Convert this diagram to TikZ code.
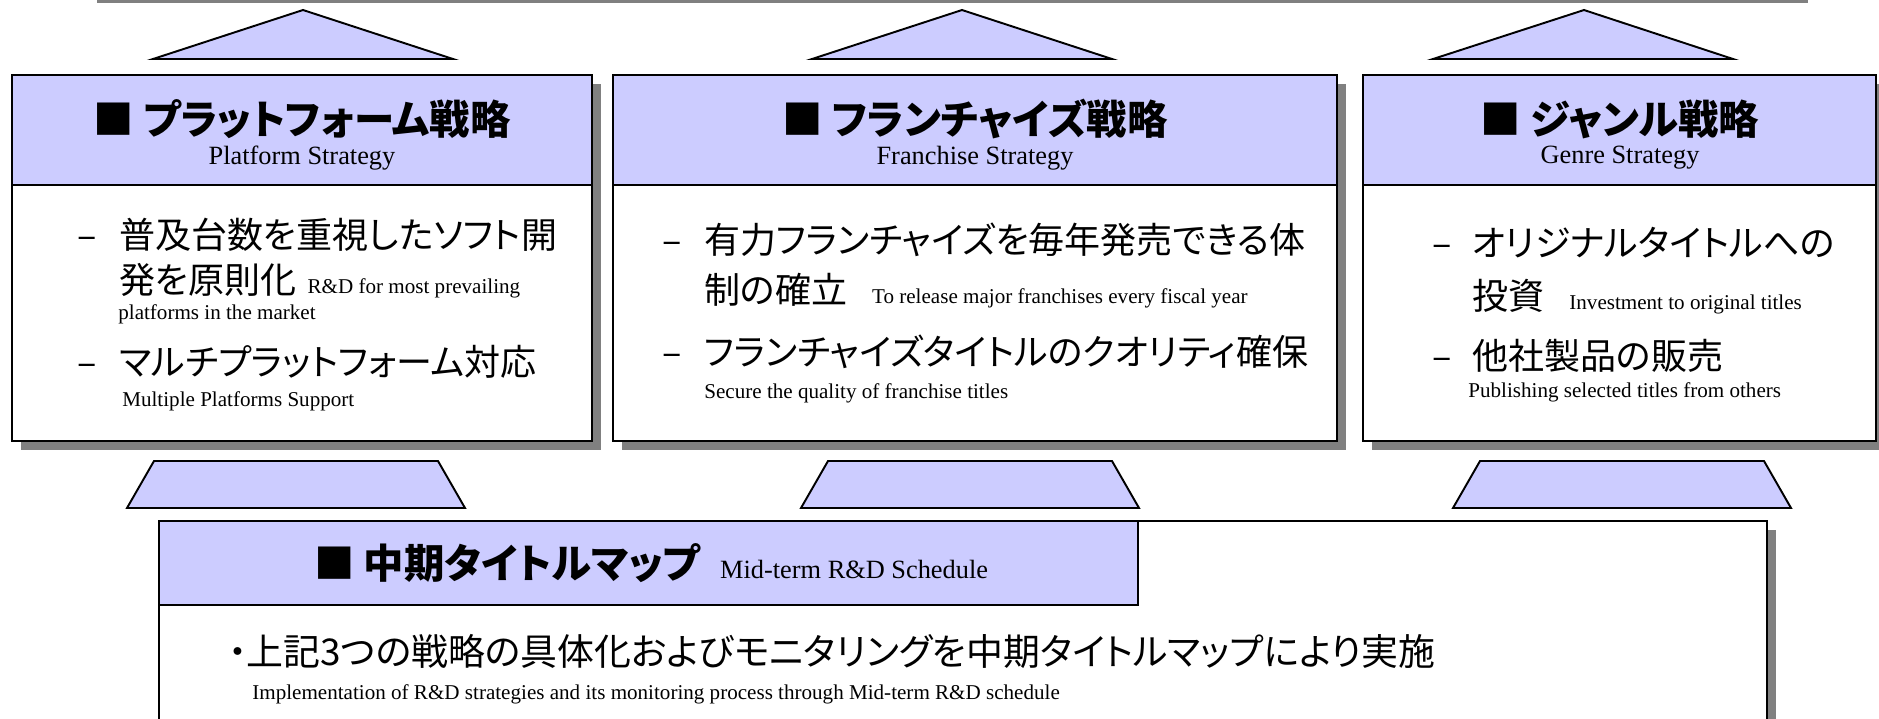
\documentclass[tikz,border=0pt]{standalone}
\usepackage{fontspec}
\setmainfont{Liberation Serif}
\newfontfamily\jpfont[RawFeature=+palt]{Noto Sans CJK JP}
\usetikzlibrary{shadows}

\definecolor{lavender}{RGB}{204,204,255}
\definecolor{shadowgray}{RGB}{128,128,128}

\newcommand{\ensmall}{\rmfamily\mdseries\fontsize{12}{14}\selectfont}
\newcommand{\jdash}[1]{\makebox[#1][l]{–}}

\tikzstyle{panel}=[rectangle,
    anchor=north west,
    inner sep=0pt,
    outer sep=0pt,
    line width=1.1pt,
    draw=black,
    fill=white,
    drop shadow={shadow xshift=0.18cm,shadow yshift=-0.18cm,fill=shadowgray,opacity=1}]
\tikzstyle{head}=[rectangle,
    anchor=north west,
    inner sep=0pt,
    outer sep=0pt,
    line width=1.1pt,
    draw=black,
    fill=lavender]
\tikzstyle{roof}=[line width=1.1pt, draw=black, fill=lavender, line join=miter]
\tikzstyle{topline}=[line width=0.06cm, draw=shadowgray]
\tikzstyle{jphead}=[inner sep=0pt, font=\jpfont\bfseries\fontsize{23}{27}\selectfont]
\tikzstyle{enhead}=[inner sep=0pt, font=\rmfamily\fontsize{15}{18}\selectfont]
\tikzstyle{jpline}=[anchor=west, inner sep=0pt, font=\jpfont\fontsize{20.5}{24}\selectfont]
\tikzstyle{enline}=[anchor=west, inner sep=0pt, font=\ensmall]

\begin{document}
\begin{tikzpicture}[x=0.02cm,y=-0.02cm]
\useasboundingbox (0,0) rectangle (1879,718);

\draw [topline] (97,1.5) -- (1808,1.5);

\draw [roof] (153,59) -- (303,10) -- (453,59) -- cycle;
\draw [roof] (812,59) -- (962,10) -- (1112,59) -- cycle;
\draw [roof] (1433,59) -- (1584,10) -- (1733,59) -- cycle;

\node (plat) [panel, minimum width=11.6cm, minimum height=7.32cm] at (12,75) {};
\node (plathead) [head, minimum width=11.6cm, minimum height=2.2cm] at (12,75) {};
\node (fran) [panel, minimum width=14.48cm, minimum height=7.32cm] at (613,75) {};
\node (franhead) [head, minimum width=14.48cm, minimum height=2.2cm] at (613,75) {};
\node (genre) [panel, minimum width=10.26cm, minimum height=7.32cm] at (1363,75) {};
\node (genrehead) [head, minimum width=10.26cm, minimum height=2.2cm] at (1363,75) {};

\node (platjp) [jphead] at (302,119) {■ プラットフォーム戦略};
\node (platen) [enhead] at (302,158) {Platform Strategy};
\node (plata) [jpline] at (77,235) {\jdash{0.84cm}普及台数を重視したソフト開};
\node (platb) [jpline] at (119,281) {発を原則化\hspace{0.22cm}{\ensmall R\&D for most prevailing}};
\node (platc) [enline] at (118,314) {platforms in the market};
\node (platd) [jpline] at (77,362) {\jdash{0.84cm}マルチプラットフォーム対応};
\node (plate) [enline] at (122,401) {Multiple Platforms Support};

\node (franjp) [jphead] at (975,119) {■ フランチャイズ戦略};
\node (franen) [enhead] at (975,158) {Franchise Strategy};
\node (frana) [jpline] at (662,240) {\jdash{0.84cm}有力フランチャイズを毎年発売できる体};
\node (franb) [jpline] at (704,291) {制の確立\hspace{0.5cm}{\ensmall To release major franchises every fiscal year}};
\node (franc) [jpline] at (662,352) {\jdash{0.84cm}フランチャイズタイトルのクオリティ確保};
\node (frand) [enline] at (704,393) {Secure the quality of franchise titles};

\node (genrejp) [jphead] at (1620,119) {■ ジャンル戦略};
\node (genreen) [enhead] at (1620,158) {Genre Strategy};
\node (genrea) [jpline] at (1432,243) {\jdash{0.8cm}オリジナルタイトルへの};
\node (genreb) [jpline] at (1472,297) {投資\hspace{0.5cm}{\ensmall Investment to original titles}};
\node (genrec) [jpline] at (1432,356) {\jdash{0.8cm}他社製品の販売};
\node (genred) [enline] at (1468,392) {Publishing selected titles from others};

\draw [roof] (127,508) -- (154,461) -- (438,461) -- (465,508) -- cycle;
\draw [roof] (801,508) -- (828,461) -- (1112,461) -- (1139,508) -- cycle;
\draw [roof] (1453,508) -- (1480,461) -- (1764,461) -- (1791,508) -- cycle;

\node (map) [panel, minimum width=32.16cm, minimum height=4.4cm] at (159,521) {};
\node (maphead) [head, minimum width=19.58cm, minimum height=1.68cm] at (159,521) {};
\node (mapjp) [jphead, anchor=west] at (314,563) {■ 中期タイトルマップ\hspace{0.4cm}{\rmfamily\mdseries\fontsize{15}{18}\selectfont Mid-term R\&D Schedule}};
\node (mapa) [jpline, font=\jpfont\fontsize{21}{25}\selectfont] at (228,651) {・上記3つの戦略の具体化およびモニタリングを中期タイトルマップにより実施};
\node (mapb) [enline] at (252,694) {Implementation of R\&D strategies and its monitoring process through Mid-term R\&D schedule};
\end{tikzpicture}
\end{document}
